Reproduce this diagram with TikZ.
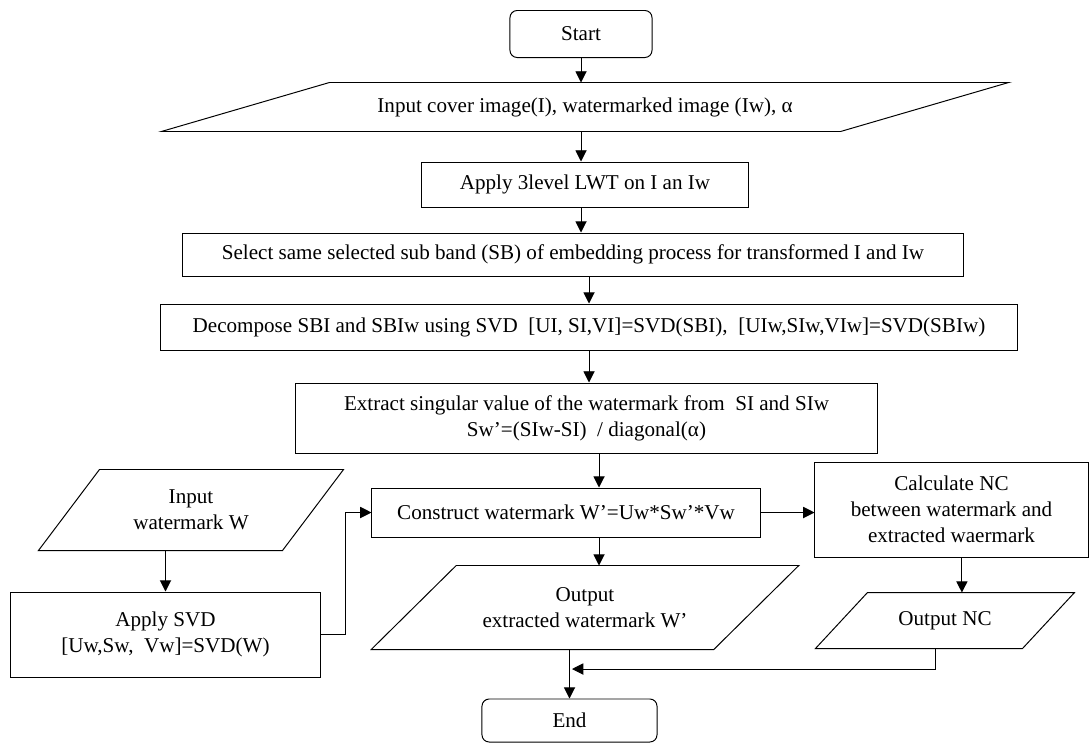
\documentclass[tikz,border=0pt]{standalone}
\usepackage{fontspec}
\setmainfont{Liberation Serif}
\usetikzlibrary{arrows.meta}
\tikzset{
  txt/.style={align=center, inner sep=2pt, font=\fontsize{15}{18.5}\selectfont},
  box/.style={txt, draw},
  term/.style={box, rounded corners=0.18cm},
  io/.style={txt},
  arr/.style={-{Triangle[length=8pt,width=8pt]}},
}
\begin{document}
\begin{tikzpicture}[x=0.025cm, y=-0.025cm, line width=0.7pt]
\useasboundingbox (0,0) rectangle (1091,744);
% main column
\node[term, minimum width=3.55cm,  minimum height=1.175cm] (start) at (581,34)    {Start};
\node[io,   minimum width=16.95cm, minimum height=1.2cm]   (inp)   at (585,107)   {Input cover image(I), watermarked image (Iw), α};
\node[box,  minimum width=8.15cm,  minimum height=1.125cm] (lwt)   at (585,184.5) {Apply 3level LWT on I an Iw};
\node[box,  minimum width=19.5cm,  minimum height=1.075cm] (sel)   at (573,254.5) {Select same selected sub band (SB) of embedding process for transformed I and Iw};
\node[box,  minimum width=21.4cm,  minimum height=1.15cm]  (dec)   at (589,327)   {Decompose SBI and SBIw using SVD\ \ [UI, SI,VI]=SVD(SBI),\ \ [UIw,SIw,VIw]=SVD(SBIw)};
\node[box,  minimum width=14.525cm,minimum height=1.75cm]  (ext)   at (586.5,418) {Extract singular value of the watermark from\ \ SI and SIw\\Sw'=(SIw-SI)\ \ / diagonal(α)};
\node[box,  minimum width=9.7cm,   minimum height=1.225cm] (con)   at (566,512.5) {Construct watermark W'=Uw*Sw'*Vw};
\node[io,   minimum width=8.5375cm,minimum height=2.075cm] (outw)  at (585,607.5) {Output\\extracted watermark W'};
\node[term, minimum width=4.375cm, minimum height=1.075cm] (fin)   at (569.5,720.5) {End};
% left branch
\node[io,   minimum width=6.075cm, minimum height=2cm]     (inw)   at (191,510)   {Input\\watermark W};
\node[box,  minimum width=7.725cm, minimum height=2.125cm] (svd)   at (165.5,634.5) {Apply SVD\\{[}Uw,Sw,\ \ Vw]=SVD(W)};
% right branch
\node[box,  minimum width=6.825cm, minimum height=2.375cm] (calc)  at (951.5,509.5) {Calculate NC\\between watermark and\\extracted waermark};
\node[io,   minimum width=5.15cm,  minimum height=1.375cm] (onc)   at (945,620.5) {Output NC};
% parallelograms
\foreach \n/\s in {inp/2.1cm, inw/0.7625cm, outw/1.0625cm, onc/0.65cm}
{
\draw ([xshift=\s]\n.north west) -- ([xshift=\s]\n.north east) -- ([xshift=-\s]\n.south east) -- ([xshift=-\s]\n.south west) -- cycle;
}
% connectors
\draw[arr] (start) -- (start |- inp.north);
\draw[arr] (inp.south -| start) -- (lwt.north -| start);
\draw[arr] (lwt.south -| start) -- (sel.north -| start);
\draw[arr] (sel.south -| dec) -- (dec.north);
\draw[arr] (dec.south) -- (dec.south |- ext.north);
\draw[arr] ([xshift=0.3125cm]ext.south) -- ([xshift=0.3125cm]ext.south |- con.north);
\draw[arr] ([xshift=0.3125cm]ext.south |- con.south) -- ([xshift=0.3125cm]ext.south |- outw.north);
\draw[arr] (outw.south -| fin) -- (fin.north);
\draw[arr] (con.east) -- (con.east -| calc.west);
\draw[arr] ([xshift=0.26cm]calc.south) -- ([xshift=0.26cm]calc.south |- onc.north);
\coordinate (join) at (572,669);
\draw[arr] ([xshift=-0.25cm]onc.south) |- (join);
\draw[arr] (inw.south -| svd) -- (svd.north);
\draw[arr] (svd.east) -- ++(25,0) |- (con.west);
\end{tikzpicture}
\end{document}
